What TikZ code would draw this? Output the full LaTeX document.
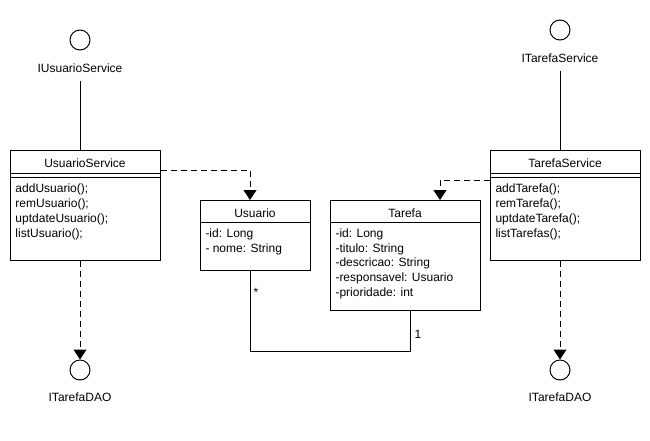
\documentclass[tikz,border=0pt]{standalone}
\usepackage{fontspec}
\setmainfont{Liberation Sans}
\usetikzlibrary{arrows.meta}
\begin{document}
\begin{tikzpicture}[x=1pt,y=-1pt,line width=1pt,
  box/.style={draw,fill=white,rectangle,inner sep=0pt,anchor=north west},
  iface/.style={draw,circle,minimum size=20pt,inner sep=0pt},
  lbl/.style={font=\fontsize{12}{14}\selectfont,inner sep=0pt,minimum height=24pt},
  txt/.style={font=\fontsize{12}{14}\selectfont,inner sep=0pt,anchor=base west},
  ttl/.style={font=\fontsize{12}{14}\selectfont,inner sep=0pt,anchor=base},
  dep/.style={dash pattern=on 6pt off 4pt,-{Triangle[width=13pt,length=10pt]}},
  assoc/.style={}]
\useasboundingbox[fill=white] (0,0) rectangle (650,440);

% interfaces
\node[iface] (ius) at (80,40) {};
\node[lbl] (iuslbl) at (80,68) {IUsuarioService};
\node[iface] (its) at (560,30) {};
\node[lbl] (itslbl) at (560,58) {ITarefaService};
\node[iface] (dao1) at (80,370) {};
\node[lbl] (dao1lbl) at (80,397) {ITarefaDAO};
\node[iface] (dao2) at (560,370) {};
\node[lbl] (dao2lbl) at (560,397) {ITarefaDAO};

% UsuarioService
\node[box,minimum width=150pt,minimum height=110pt] (us) at (10,150) {};
\draw (10,173) -- (160,173) (10,177) -- (160,177);
\node[ttl] (ust) at (85,167) {UsuarioService};
\node[txt] (us1) at (15,192) {addUsuario();};
\node[txt] (us2) at (15,207) {remUsuario();};
\node[txt] (us3) at (15,222) {uptdateUsuario();};
\node[txt] (us4) at (15,237) {listUsuario();};

% TarefaService
\node[box,minimum width=150pt,minimum height=110pt] (ts) at (490,150) {};
\draw (490,173) -- (640,173) (490,177) -- (640,177);
\node[ttl] (tst) at (565,167) {TarefaService};
\node[txt] (ts1) at (495,192) {addTarefa();};
\node[txt] (ts2) at (495,207) {remTarefa();};
\node[txt] (ts3) at (495,222) {uptdateTarefa();};
\node[txt] (ts4) at (495,237) {listTarefas();};

% Usuario
\node[box,minimum width=110pt,minimum height=70pt] (usu) at (200,200) {};
\draw (200,222.5) -- (310,222.5);
\node[ttl] (usut) at (255,217) {Usuario};
\node[txt] (usu1) at (205,237) {-id: Long};
\node[txt] (usu2) at (205,252) {- nome: String};

% Tarefa
\node[box,minimum width=150pt,minimum height=110pt] (ta) at (330,200) {};
\draw (330,222.5) -- (480,222.5);
\node[ttl] (tat) at (405,217) {Tarefa};
\node[txt] (ta1) at (335,237) {-id: Long};
\node[txt] (ta2) at (335,252) {-titulo: String};
\node[txt] (ta3) at (335,266) {-descricao: String};
\node[txt] (ta4) at (335,281) {-responsavel: Usuario};
\node[txt] (ta5) at (335,296) {-prioridade: int};

% connectors
\draw (iuslbl.south) -- (iuslbl.south |- us.north);
\draw (itslbl.south) -- (itslbl.south |- ts.north);
\draw[dep] (dao1.north |- us.south) -- (dao1.north);
\draw[dep] (dao2.north |- ts.south) -- (dao2.north);
\draw[dep] ([yshift=-20pt]us.north east) -| ([xshift=50pt]usu.north west);
\draw[dep] ([yshift=-30pt]ts.north west) -| ([xshift=110pt]ta.north west);
\draw[assoc] ([xshift=50pt]usu.south west) -- ++(0,80) -| ([xshift=80pt]ta.south west);
\node[txt] (m1) at (253,296) {*};
\node[txt] (m2) at (414,338) {1};
\end{tikzpicture}
\end{document}
